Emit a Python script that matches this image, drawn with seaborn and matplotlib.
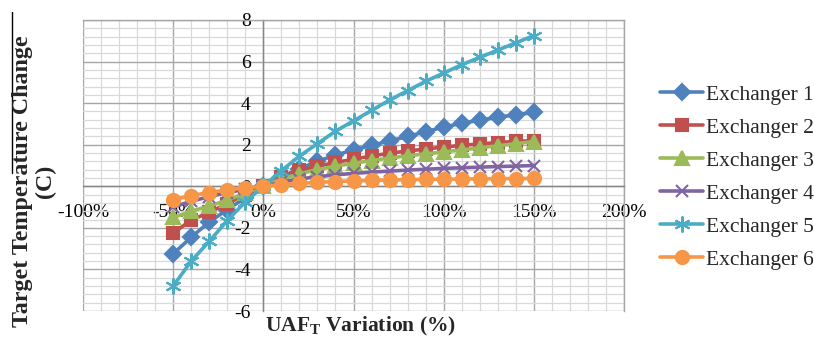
import numpy as np
import pandas as pd
import matplotlib
matplotlib.use("Agg")
import matplotlib.pyplot as plt
import matplotlib.ticker as mticker
from matplotlib.lines import Line2D
import seaborn as sns

# UA factor variation (%) and resulting target temperature change (C)
variation = [-50, -40, -30, -20, -10, 0, 10, 20, 30, 40, 50, 60, 70, 80, 90, 100, 110, 120, 130, 140, 150]
exchanger1 = [-3.25, -2.45, -1.72, -1.12, -0.55, 0.0, 0.45, 0.85, 1.2, 1.5, 1.75, 1.97, 2.18, 2.4, 2.62, 2.85, 3.03, 3.18, 3.32, 3.44, 3.55]
exchanger2 = [-2.25, -1.63, -1.25, -0.83, -0.4, 0.0, 0.45, 0.77, 0.96, 1.15, 1.3, 1.46, 1.59, 1.7, 1.79, 1.89, 1.97, 2.04, 2.1, 2.16, 2.2]
exchanger3 = [-1.5, -1.2, -0.95, -0.67, -0.32, 0.0, 0.35, 0.6, 0.8, 0.97, 1.1, 1.24, 1.36, 1.47, 1.56, 1.65, 1.75, 1.85, 1.95, 2.05, 2.15]
exchanger4 = [-1.0, -0.72, -0.5, -0.3, -0.15, 0.0, 0.2, 0.35, 0.46, 0.55, 0.62, 0.68, 0.73, 0.78, 0.82, 0.86, 0.89, 0.92, 0.95, 0.97, 1.0]
exchanger5 = [-4.8, -3.6, -2.65, -1.65, -0.75, 0.0, 0.75, 1.45, 2.05, 2.65, 3.15, 3.65, 4.15, 4.6, 5.05, 5.45, 5.85, 6.2, 6.55, 6.9, 7.25]
exchanger6 = [-0.65, -0.45, -0.3, -0.17, -0.07, 0.0, 0.08, 0.14, 0.19, 0.23, 0.26, 0.28, 0.3, 0.32, 0.33, 0.34, 0.35, 0.36, 0.37, 0.37, 0.38]

series = [
    ("Exchanger 1", exchanger1, "#4F81BD", "D", 8.5),
    ("Exchanger 2", exchanger2, "#C0504D", "s", 8.5),
    ("Exchanger 3", exchanger3, "#9BBB59", "^", 9.5),
    ("Exchanger 4", exchanger4, "#8064A2", "x", 8.5),
    ("Exchanger 5", exchanger5, "#4BACC6", (6, 2, 0), 11.5),
    ("Exchanger 6", exchanger6, "#F79646", "o", 9.5),
]

sns.set_style("whitegrid")
plt.rcParams['font.family'] = ['Liberation Serif', 'DejaVu Sans']
plt.rcParams['mathtext.fontset'] = 'custom'
plt.rcParams['mathtext.rm'] = 'Liberation Serif'
plt.rcParams['mathtext.bf'] = 'Liberation Serif:bold'

fig = plt.figure(figsize=(8.14, 3.40), dpi=100)
ax = fig.add_axes([83 / 814, 29 / 340, 541 / 814, 291 / 340])

for name, vals, color, marker, ms in series:
    sns.lineplot(x=variation, y=vals, ax=ax, color=color, marker=marker,
                 markersize=ms, markeredgecolor=color, markeredgewidth=1.5,
                 linewidth=2.6, label=name, errorbar=None, zorder=3)

ax.set_xlim(-100, 200)
ax.set_ylim(-6, 8)
ax.xaxis.set_major_locator(mticker.MultipleLocator(50))
ax.xaxis.set_minor_locator(mticker.MultipleLocator(10))
ax.yaxis.set_major_locator(mticker.MultipleLocator(2))
ax.yaxis.set_minor_locator(mticker.MultipleLocator(0.4))
ax.xaxis.set_major_formatter(mticker.FuncFormatter(lambda v, p: f"{v:.0f}%"))
ax.yaxis.set_major_formatter(mticker.FuncFormatter(lambda v, p: f"{v:.0f}"))

ax.grid(which='major', color='#a6a6a6', linewidth=1.0)
ax.grid(which='minor', color='#d9d9d9', linewidth=0.9)
ax.set_axisbelow(True)

ax.spines['left'].set_position(('data', 0))
ax.spines['bottom'].set_position(('data', 0))
for s in ['left', 'bottom']:
    ax.spines[s].set_color('#868686')
    ax.spines[s].set_linewidth(1.0)
for s in ['top', 'right']:
    ax.spines[s].set_color('#a6a6a6')
    ax.spines[s].set_linewidth(1.0)

ax.tick_params(axis='x', which='both', length=0, pad=13, labelsize=14, colors='black')
ax.tick_params(axis='y', which='both', length=0, pad=9, labelsize=14, colors='black')
ax.set_xlabel("")
ax.set_ylabel("")

fig.text(34 / 814, 1 - 181 / 340, "Target Temperature Change\n(C)", rotation=90,
         ha='center', va='center', multialignment='center',
         fontsize=17.3, fontweight='bold', linespacing=1.08)
fig.add_artist(Line2D([12 / 814, 12 / 814], [1 - 12 / 340, 1 - 173 / 340],
                      transform=fig.transFigure, color='black', linewidth=1.0))
fig.text(361 / 814, 1 - 326 / 340, r"UAF$_{\mathbf{T}}$ Variation (%)",
         ha='center', va='center', fontsize=15.5, fontweight='bold')

ax.legend(loc='center left', bbox_to_anchor=(660 / 814, 1 - 177 / 340),
          bbox_transform=fig.transFigure, frameon=False, fontsize=15.5,
          borderaxespad=0, borderpad=0, handlelength=2.0, handletextpad=0.15,
          labelspacing=0.6)

fig.savefig("out.png", dpi=100)
